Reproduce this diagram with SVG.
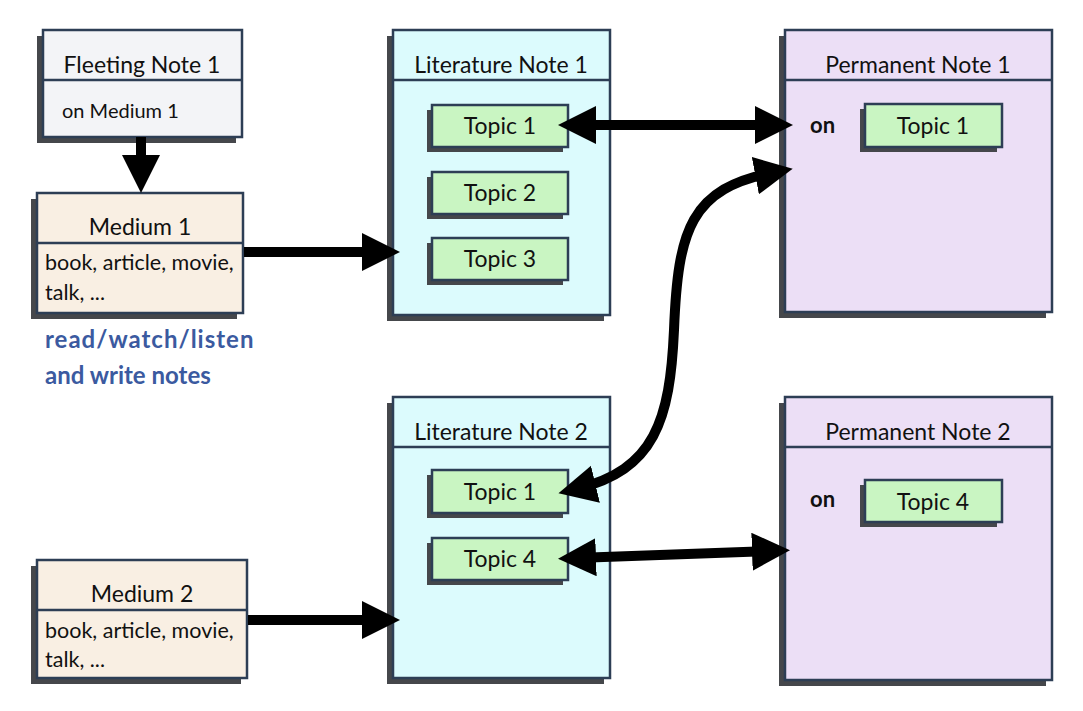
<svg xmlns="http://www.w3.org/2000/svg" width="1083" height="711" viewBox="0 0 1083 711">
<defs>
<style>
.sh{fill:#45474b}
.box{stroke:#2d3e55;stroke-width:2.5}
.div{stroke:#2d3e55;stroke-width:2.5}
.fleet{fill:#f3f4f7}
.med{fill:#f9efe3}
.lit{fill:#dcfbfd}
.perm{fill:#ecdff6}
.topic{fill:#c9f5c2}
.t{font-family:Lato,"Noto Sans",sans-serif;fill:#111;}
.title{font-size:23px;text-anchor:middle}
.body{font-size:20px}
.mbody{font-size:21.5px}
.on{font-size:22px;font-weight:bold}
.tp{font-size:23px;text-anchor:middle}
.blue{font-family:Lato,"Noto Sans",sans-serif;fill:#3b5aa0;font-size:24px;font-weight:bold}
.conn{fill:none;stroke:#000;stroke-width:10}
</style>
<marker id="ah" markerUnits="userSpaceOnUse" markerWidth="40" markerHeight="40" refX="20" refY="19" orient="auto-start-reverse" viewBox="0 0 40 40">
<path d="M0,0 L38,19 L0,38 z" fill="#000"/>
</marker>
</defs>
<rect width="1083" height="711" fill="#fff"/>

<g id="fleeting1">
<rect class="sh" x="37" y="36" width="199" height="107"/>
<rect class="box fleet" x="43" y="30" width="199" height="107"/>
<line class="div" x1="43" y1="80" x2="242" y2="80"/>
<text class="t title" x="142" y="73">Fleeting Note 1</text>
<text class="t body" x="62" y="118">on Medium 1</text>
</g>

<g id="medium1">
<rect class="sh" x="31" y="199" width="206" height="120"/>
<rect class="box med" x="37" y="193" width="206" height="120"/>
<line class="div" x1="37" y1="243" x2="243" y2="243"/>
<text class="t title" x="140" y="235">Medium 1</text>
<text class="t mbody" x="45" y="270">book, article, movie,</text>
<text class="t mbody" x="45" y="300">talk, ...</text>
</g>

<g id="note-text">
<text class="blue" x="45" y="348" letter-spacing="1">read/watch/listen</text>
<text class="blue" x="45" y="384">and write notes</text>
</g>

<g id="medium2">
<rect class="sh" x="31" y="566" width="210" height="118"/>
<rect class="box med" x="37" y="560" width="210" height="118"/>
<line class="div" x1="37" y1="610" x2="247" y2="610"/>
<text class="t title" x="142" y="602">Medium 2</text>
<text class="t mbody" x="45" y="638">book, article, movie,</text>
<text class="t mbody" x="45" y="667">talk, ...</text>
</g>

<g id="literature1">
<rect class="sh" x="387" y="36" width="217" height="285"/>
<rect class="box lit" x="393" y="30" width="217" height="285"/>
<line class="div" x1="393" y1="80" x2="610" y2="80"/>
<text class="t title" x="501" y="73">Literature Note 1</text>
<g id="lit1-topic1">
<rect class="sh" x="427" y="110" width="136" height="42"/>
<rect class="box topic" x="432" y="105" width="136" height="42"/>
<text class="t tp" x="500" y="134">Topic 1</text>
</g>
<g id="lit1-topic2">
<rect class="sh" x="427" y="177" width="136" height="42"/>
<rect class="box topic" x="432" y="172" width="136" height="42"/>
<text class="t tp" x="500" y="201">Topic 2</text>
</g>
<g id="lit1-topic3">
<rect class="sh" x="427" y="243" width="136" height="42"/>
<rect class="box topic" x="432" y="238" width="136" height="42"/>
<text class="t tp" x="500" y="267">Topic 3</text>
</g>
</g>

<g id="literature2">
<rect class="sh" x="387" y="403" width="217" height="281"/>
<rect class="box lit" x="393" y="397" width="217" height="281"/>
<line class="div" x1="393" y1="447" x2="610" y2="447"/>
<text class="t title" x="501" y="440">Literature Note 2</text>
<g id="lit2-topic1">
<rect class="sh" x="427" y="475" width="136" height="43"/>
<rect class="box topic" x="432" y="470" width="136" height="43"/>
<text class="t tp" x="500" y="500">Topic 1</text>
</g>
<g id="lit2-topic4">
<rect class="sh" x="427" y="543" width="136" height="42"/>
<rect class="box topic" x="432" y="538" width="136" height="42"/>
<text class="t tp" x="500" y="567">Topic 4</text>
</g>
</g>

<g id="permanent1">
<rect class="sh" x="779" y="36" width="267" height="282"/>
<rect class="box perm" x="785" y="30" width="267" height="282"/>
<line class="div" x1="785" y1="80" x2="1052" y2="80"/>
<text class="t title" x="918" y="73">Permanent Note 1</text>
<text class="t on" x="810" y="133">on</text>
<g id="perm1-topic1">
<rect class="sh" x="860" y="109" width="137" height="43"/>
<rect class="box topic" x="865" y="104" width="137" height="43"/>
<text class="t tp" x="933" y="134">Topic 1</text>
</g>
</g>

<g id="permanent2">
<rect class="sh" x="779" y="403" width="267" height="283"/>
<rect class="box perm" x="785" y="397" width="267" height="283"/>
<line class="div" x1="785" y1="447" x2="1052" y2="447"/>
<text class="t title" x="918" y="440">Permanent Note 2</text>
<text class="t on" x="810" y="507">on</text>
<g id="perm2-topic4">
<rect class="sh" x="860" y="485" width="137" height="42"/>
<rect class="box topic" x="865" y="480" width="137" height="42"/>
<text class="t tp" x="933" y="510">Topic 4</text>
</g>
</g>

<g id="connectors">
<path class="conn" d="M141,137 L141,175" marker-end="url(#ah)"/>
<path class="conn" d="M244,252 L382,252" marker-end="url(#ah)"/>
<path class="conn" d="M576,125 L775,125" marker-start="url(#ah)" marker-end="url(#ah)"/>
<path class="conn" d="M576,489 C655,470 670,420 674,330 C678,230 690,188 775,172" marker-start="url(#ah)" marker-end="url(#ah)"/>
<path class="conn" d="M576,558 L772,551" marker-start="url(#ah)" marker-end="url(#ah)"/>
<path class="conn" d="M248,620 L382,620" marker-end="url(#ah)"/>
</g>
</svg>
